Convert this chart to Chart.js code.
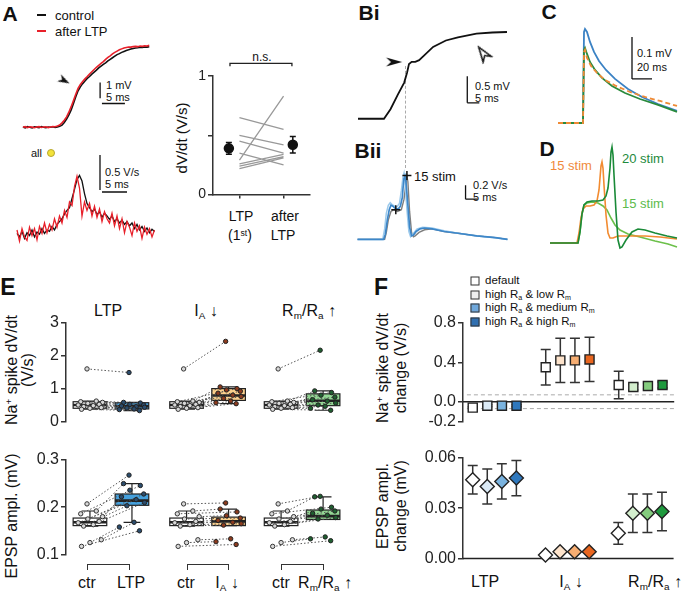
<!DOCTYPE html>
<html><head><meta charset="utf-8">
<script src="https://cdn.jsdelivr.net/npm/chart.js@4.4.1/dist/chart.umd.min.js"></script>
<style>
html,body{margin:0;padding:0;background:#fff;}
#fig{position:relative;width:682px;height:594px;overflow:hidden;font-family:'Liberation Sans',Arial,sans-serif;color:#111;}
#fig canvas{position:absolute;}
.t,.l,.r{position:absolute;white-space:nowrap;line-height:1;}
.t{transform:translate(-50%,-50%);}
.l{transform:translate(0,-50%);}
.r{transform:translate(-50%,-50%) rotate(-90deg);text-align:center;}
.b{font-weight:bold;font-size:21px;}
sub,sup{font-size:0.62em;line-height:0;position:relative;vertical-align:baseline;}
sub{top:0.32em;} sup{top:-0.5em;}
.hl{position:absolute;}
.br{position:absolute;border:1.5px solid #333;border-bottom:none;height:6px;box-sizing:border-box;}
.sq{position:absolute;width:7px;height:7px;border:1px solid #333;transform:translate(-50%,-50%);}
</style></head><body><div id="fig">
<div class="t b" style="left:10px;top:13px">A</div>
<div class="hl" style="left:37px;top:14px;width:9px;height:2px;background:#111"></div>
<div class="l" style="left:55px;top:15px;font-size:13px">control</div>
<div class="hl" style="left:37px;top:30px;width:9px;height:2px;background:#e8202a"></div>
<div class="l" style="left:55px;top:31px;font-size:13px">after LTP</div>
<div class="l" style="left:106px;top:85px;font-size:11px">1 mV</div>
<div class="l" style="left:106px;top:97px;font-size:11px">5 ms</div>
<div class="l" style="left:31px;top:153px;font-size:11px">all</div>
<div class="hl" style="left:47px;top:149px;width:6px;height:6px;border-radius:50%;background:#f3e23a;border:1px solid #b8a830"></div>
<div class="l" style="left:105px;top:172px;font-size:11px">0.5 V/s</div>
<div class="l" style="left:105px;top:184px;font-size:11px">5 ms</div>
<div class="t" style="left:262px;top:57px;font-size:12px">n.s.</div>
<div class="r" style="left:181px;top:138px;font-size:15px">dV/dt (V/s)</div>
<div class="t" style="left:241px;top:216px;font-size:14px">LTP</div>
<div class="t" style="left:285px;top:216px;font-size:14px">after</div>
<div class="t" style="left:240px;top:235px;font-size:14px">(1<sup>st</sup>)</div>
<div class="t" style="left:283px;top:235px;font-size:14px">LTP</div>

<div class="t b" style="left:369px;top:12px">Bi</div>
<div class="t b" style="left:368px;top:150px">Bii</div>
<div class="hl" style="left:405px;top:66px;height:102px;border-left:1px dashed #aaa"></div>
<div class="l" style="left:475px;top:86px;font-size:11px">0.5 mV</div>
<div class="l" style="left:475px;top:98px;font-size:11px">5 ms</div>
<div class="l" style="left:414px;top:176px;font-size:13px">15 stim</div>
<div class="l" style="left:473px;top:185px;font-size:11px">0.2 V/s</div>
<div class="l" style="left:473px;top:197px;font-size:11px">5 ms</div>

<div class="t b" style="left:549px;top:11px">C</div>
<div class="l" style="left:637px;top:53px;font-size:11px">0.1 mV</div>
<div class="l" style="left:637px;top:67px;font-size:11px">20 ms</div>
<div class="t b" style="left:547px;top:148px">D</div>
<div class="l" style="left:622px;top:158px;font-size:13px;color:#1e8a3c">20 stim</div>
<div class="l" style="left:550px;top:165px;font-size:13px;color:#f08a3c">15 stim</div>
<div class="l" style="left:622px;top:203px;font-size:13px;color:#5dbb4c">15 stim</div>

<div class="t b" style="left:8px;top:287px;font-size:23px">E</div>
<div class="t" style="left:108px;top:311px;font-size:16px">LTP</div>
<div class="t" style="left:206px;top:311px;font-size:16px">I<sub>A</sub> ↓</div>
<div class="t" style="left:309px;top:311px;font-size:16px">R<sub>m</sub>/R<sub>a</sub> ↑</div>
<div class="r" style="left:20px;top:370px;font-size:16px">Na<sup>+</sup> spike dV/dt<br>(V/s)</div>
<div class="r" style="left:12px;top:516px;font-size:16px">EPSP ampl. (mV)</div>
<div class="br" style="left:87px;top:564px;width:43px"></div>
<div class="br" style="left:187px;top:564px;width:42px"></div>
<div class="br" style="left:281px;top:564px;width:43px"></div>
<div class="t" style="left:87px;top:583px;font-size:16px">ctr</div>
<div class="t" style="left:131px;top:583px;font-size:16px">LTP</div>
<div class="t" style="left:186px;top:583px;font-size:16px">ctr</div>
<div class="t" style="left:227px;top:583px;font-size:16px">I<sub>A</sub> ↓</div>
<div class="t" style="left:281px;top:583px;font-size:16px">ctr</div>
<div class="t" style="left:325px;top:583px;font-size:16px">R<sub>m</sub>/R<sub>a</sub> ↑</div>

<div class="t b" style="left:381px;top:287px;font-size:23px">F</div>
<div class="sq" style="left:475px;top:281px;background:#ffffff"></div>
<div class="sq" style="left:475px;top:295px;background:#eeeeee"></div>
<div class="sq" style="left:475px;top:308px;background:#6fa8dc"></div>
<div class="sq" style="left:475px;top:322px;background:#2f6fb0"></div>
<div class="l" style="left:485px;top:281px;font-size:11.5px">default</div>
<div class="l" style="left:485px;top:295px;font-size:11.5px">high R<sub>a</sub> &amp; low R<sub>m</sub></div>
<div class="l" style="left:485px;top:308px;font-size:11.5px">high R<sub>a</sub> &amp; medium R<sub>m</sub></div>
<div class="l" style="left:485px;top:322px;font-size:11.5px">high R<sub>a</sub> &amp; high R<sub>m</sub></div>
<div class="r" style="left:392px;top:368px;font-size:16px;line-height:1.1">Na<sup>+</sup> spike dV/dt<br>change (V/s)</div>
<div class="r" style="left:392px;top:506px;font-size:16px;line-height:1.1">EPSP ampl.<br>change (mV)</div>
<div class="t" style="left:485px;top:582px;font-size:16px">LTP</div>
<div class="t" style="left:571px;top:582px;font-size:16px">I<sub>A</sub> ↓</div>
<div class="t" style="left:655px;top:582px;font-size:16px">R<sub>m</sub>/R<sub>a</sub> ↑</div>
</div>
<script>
// ================= DATA =================
// A: EPSP traces (ms, mV) and their derivatives (V/s)
const aTime = [0,0.5,1,1.5,2,2.5,3,3.5,4,4.5,5,5.5,6,6.5,7,7.5,8,8.5,9,9.5,10,10.5,11,11.5,12,12.5,13,13.5,14,14.5,15,15.5,16,16.5,17,17.5,18,18.5,19,19.5,20,20.5,21,21.5,22,22.5,23,23.5,24,24.5,25,25.5,26,26.5,27,27.5];
const aControl = [0.02,-0.03,0.04,0.00,-0.04,0.03,0.01,-0.02,0.04,0.00,-0.03,0.02,0.00,0.03,-0.01,0.02,0.06,0.14,0.30,0.52,0.78,1.10,1.50,1.92,2.30,2.55,2.75,2.92,3.08,3.20,3.35,3.48,3.60,3.74,3.85,3.96,4.06,4.18,4.28,4.38,4.48,4.58,4.64,4.72,4.78,4.84,4.88,4.93,4.96,5.00,5.01,5.04,5.03,5.06,5.05,5.08];
const aAfterLTP = [0.00,0.04,-0.02,0.03,0.01,-0.03,0.02,0.04,-0.01,0.02,0.03,-0.02,0.02,0.05,0.04,0.08,0.14,0.28,0.45,0.66,0.95,1.30,1.68,2.08,2.45,2.70,2.88,3.05,3.20,3.36,3.50,3.64,3.78,3.90,4.02,4.14,4.28,4.40,4.50,4.62,4.72,4.80,4.88,4.94,5.00,5.03,5.06,5.05,5.08,5.10,5.08,5.12,5.10,5.14,5.12,5.16];
const aRateControl = [0.05,0.00,0.08,-0.02,0.06,0.02,0.10,0.00,0.07,0.04,0.12,0.05,0.10,0.08,0.15,0.10,0.18,0.22,0.26,0.33,0.38,0.42,0.55,0.68,0.82,0.88,0.80,0.62,0.48,0.42,0.36,0.40,0.32,0.36,0.28,0.34,0.30,0.25,0.30,0.22,0.26,0.20,0.24,0.18,0.22,0.16,0.20,0.12,0.18,0.10,0.15,0.08,0.13,0.06,0.11,0.08];
const aRateAfter = [0.10,-0.06,0.12,0.00,-0.05,0.14,0.02,0.12,-0.04,0.15,0.05,0.20,0.06,0.18,0.10,0.26,0.14,0.30,0.20,0.38,0.28,0.50,0.45,0.72,0.87,0.70,0.30,0.50,0.38,0.48,0.30,0.44,0.28,0.40,0.22,0.36,0.26,0.20,0.34,0.16,0.30,0.12,0.26,0.06,0.22,0.14,0.02,0.20,0.08,0.16,-0.02,0.14,0.04,0.12,0.00,0.10];
// A right: slope per cell
const slopeLTP1st = [0.65,0.50,0.45,0.35,0.29,0.26,0.24,0.22];
const slopeAfterLTP = [0.55,0.42,0.35,0.25,0.83,0.34,0.32,0.31];
const slopeMean = [0.39,0.42];
const slopeErr = [0.05,0.07];
// Bi / Bii
const biTime = [0,10.8,13.5,16.5,19.2,20.4,21.2,22.3,23.8,25.4,27.3,31.2,36.5,41.5,49.2,55.8,61.9];
const biVm = [0,0,0.18,0.45,0.68,0.87,1.03,1.07,1.07,1.10,1.18,1.35,1.47,1.53,1.60,1.62,1.63];
const biiTimeA = [0,10.8,11.5,12.3,13.1,13.8,14.6,15.8,16.9,17.7,18.5,18.8,19.2,19.6,20.0,20.8,21.5,22.3,23.1,24.2,25.8,27.7,30.8,35.8,41.5,49.2,56.9,61.9];
const biiRateA = [0,0,0.075,0.275,0.425,0.488,0.475,0.438,0.438,0.475,0.6,0.738,0.875,0.925,0.825,0.488,0.175,0.05,0.063,0.113,0.15,0.163,0.15,0.113,0.088,0.05,0.025,0];
const biiTimeB = [0,10.4,11.2,11.9,12.7,13.5,14.6,16.2,17.3,18.1,18.8,19.2,19.6,20.4,21.2,21.9,23.1,24.6,26.9,30.8,35.8,41.5,49.2,56.9,61.9];
const biiRateB = [0,0,0.15,0.375,0.488,0.525,0.488,0.463,0.513,0.7,0.9,0.95,0.825,0.425,0.113,0.038,0.088,0.15,0.175,0.163,0.125,0.088,0.05,0.025,0];
const biiTimeC = [0,11.2,11.9,12.7,13.8,15.0,16.5,18.1,19.2,20.0,20.4,20.8,21.5,22.3,23.1,23.8,25.4,27.7,30.8,35.8,41.5,49.2,56.9,61.9];
const biiRateC = [0,0,0.1,0.275,0.4,0.425,0.4,0.425,0.575,0.8,0.9,0.825,0.4,0.1,0.038,0.05,0.1,0.138,0.15,0.113,0.088,0.05,0.025,0];
const biiMarkTime = [15.8,20.4];
const biiMarkRate = [0.425,0.9125];
// C: EPSPs (ms, mV)
const cTimeBlue = [0,25,26,27,29,32,36,41,48,57,70,84,100,119];
const cBlue = [0,0,0.2167,0.2238,0.2167,0.1929,0.169,0.1476,0.1262,0.1048,0.081,0.0619,0.0452,0.0286];
const cTimeGreen = [0,25,26,27,29,32,37,44,54,67,82,100,119];
const cGreen = [0,0,0.1738,0.1786,0.1643,0.1452,0.1262,0.1071,0.0881,0.0714,0.0571,0.0429,0.0262];
const cTimeOrange = [0,25,26,27,29,33,39,47,58,72,87,102,119];
const cOrange = [0,0,0.169,0.1738,0.1548,0.1357,0.119,0.1024,0.0881,0.0738,0.0619,0.0524,0.0405];
// D: dV/dt traces
const dTimeOrange = [0,27,29,31,33,36,40,44,47,49,50,51,52,53,54,56,58,60,63,68,80,95,110,127];
const dOrange = [0,0,0.10,0.25,0.34,0.37,0.37,0.38,0.42,0.53,0.65,0.77,0.81,0.75,0.58,0.28,0.10,0.05,0.05,0.07,0.07,0.07,0.06,0.04];
const dTimeDark = [0,28,30,32,34,37,42,48,53,56,58,60,61,62,63,64,66,68,70,72,76,82,88,95,105,117,127];
const dDark = [0,0,0.11,0.29,0.38,0.41,0.42,0.42,0.43,0.47,0.55,0.75,0.91,0.96,0.88,0.68,0.31,0.03,-0.05,-0.04,0.03,0.11,0.14,0.13,0.10,0.07,0.05];
const dTimeLight = [0,28,30,32,34,37,42,48,53,57,61,65,70,78,90,105,118,127];
const dLight = [0,0,0.11,0.29,0.38,0.40,0.41,0.40,0.37,0.33,0.25,0.18,0.13,0.09,0.06,0.02,-0.01,-0.04];
// E: simulated cells
const eTopCtr = [1.60,0.62,0.60,0.58,0.55,0.52,0.50,0.48,0.45,0.42,0.40,0.37];
const eTopLTP = [1.49,0.58,0.56,0.52,0.50,0.47,0.45,0.43,0.41,0.38,0.36,0.33];
const eTopIA = [2.44,1.05,1.00,0.96,0.92,0.86,0.80,0.76,0.70,0.62,0.57,0.54];
const eTopRm = [2.17,0.93,0.88,0.80,0.74,0.66,0.62,0.56,0.50,0.46,0.40,0.34];
const eBotCtr = [0.207,0.192,0.186,0.180,0.175,0.170,0.167,0.163,0.160,0.131,0.125,0.117];
const eBotLTP = [0.268,0.250,0.246,0.236,0.228,0.222,0.216,0.210,0.203,0.168,0.158,0.150];
const eBotIA = [0.209,0.196,0.190,0.182,0.177,0.172,0.168,0.165,0.162,0.133,0.127,0.121];
const eBotRm = [0.223,0.222,0.200,0.196,0.192,0.187,0.183,0.178,0.175,0.137,0.133,0.129];
// box stats: [low whisker, q1, median, q3, high whisker]
const eTopBoxCtr = [0.37,0.40,0.50,0.60,0.62];
const eTopBoxLTP = [0.33,0.38,0.46,0.57,0.58];
const eTopBoxIA = [0.54,0.64,0.79,1.00,1.05];
const eTopBoxRm = [0.34,0.48,0.63,0.84,0.93];
const eBotBoxCtr = [0.160,0.161,0.168,0.177,0.192];
const eBotBoxLTP = [0.168,0.204,0.214,0.228,0.250];
const eBotBoxIA = [0.161,0.161,0.170,0.179,0.196];
const eBotBoxRm = [0.174,0.174,0.181,0.194,0.222];
// F: mean change and error
const fTopLTP = [-0.06,-0.04,-0.04,-0.04];
const fTopLTPErr = [0.01,0.01,0.01,0.01];
const fTopIA = [0.35,0.42,0.42,0.43];
const fTopIAErr = [0.18,0.225,0.225,0.225];
const fTopRm = [0.17,0.15,0.16,0.17];
const fTopRmErr = [0.14,0.03,0.03,0.03];
const fBotLTP = [0.047,0.043,0.046,0.048];
const fBotLTPErr = [0.0085,0.0105,0.0105,0.0105];
const fBotIA = [0.002,0.004,0.004,0.004];
const fBotRm = [0.015,0.027,0.027,0.028];
const fBotRmErr = [0.0065,0.0115,0.0115,0.0115];

// ================= LAYOUT / STYLE =================
const ctrJit = [-0.07,0.15,-0.22,0.3,-0.05,0.22,-0.28,0.08,-0.15,0.27,0.0,-0.2];
const trtJit = [-0.07,-0.2,0.2,-0.05,0.28,-0.25,0.1,0.3,-0.12,0.05,-0.3,0.18];
const eCtrX = [1,3.3,5.55], eTrtX = [2,4.3,6.55];
const fX = [[0,1,2,3],[5,6,7,8],[10,11,12,13]];
const fColors = [['#ffffff','#dbeaf6','#7ab3df','#2f78bd'],['#ffffff','#fde3cb','#f7ae72','#e9661f'],['#ffffff','#d4efce','#84cc7e','#1f9a3e']];

Chart.defaults.font.family = "'Liberation Sans', Arial, sans-serif";
Chart.defaults.color = '#222';
Chart.defaults.animation = false;
Chart.defaults.responsive = false;
Chart.defaults.devicePixelRatio = 1;
Chart.defaults.events = [];
Chart.defaults.plugins.legend.display = false;
Chart.defaults.plugins.tooltip.enabled = false;

const fig = document.getElementById('fig');
function cv(l,t,w,h){const c=document.createElement('canvas');c.width=w;c.height=h;c.style.cssText=`left:${l}px;top:${t}px;width:${w}px;height:${h}px`;fig.appendChild(c);return c;}
function arrowImg(w,h,filled){const c=document.createElement('canvas');c.width=w+3;c.height=h+3;const g=c.getContext('2d');
  g.beginPath();g.moveTo(1.5,1.5);g.lineTo(w+1.5,h/2+1.5);g.lineTo(1.5,h+1.5);g.lineTo(1.5+w*0.3,h/2+1.5);g.closePath();
  if(filled){g.fillStyle='#111';g.fill();}else{g.fillStyle='#fff';g.fill();g.strokeStyle='#111';g.lineWidth=1.4;g.lineJoin='miter';g.stroke();}
  return c;}
const xy=(xs,ys)=>xs.map((x,i)=>({x,y:ys[i]}));
function tr(data,color,w,dash){return {data,borderColor:color,borderWidth:w||1.5,borderDash:dash||[],pointRadius:0,fill:false,tension:0,clip:false};}
function scaleBar(vx,vy,vLen,hx,hy,hLen){return tr([{x:vx,y:vy},{x:vx,y:vy+vLen},{x:vx,y:null},{x:hx,y:hy},{x:hx+hLen,y:hy}],'#111',1.3);}
function mark(pts,style,r,rot,fill,border){return {data:pts,showLine:false,pointStyle:style,pointRadius:r,pointRotation:rot,pointBackgroundColor:fill,pointBorderColor:border,pointBorderWidth:1.5,clip:false};}
// note: Chart.js paints the first dataset last (on top)
function traceChart(l,t,w,h,xr,yr,datasets){
  return new Chart(cv(l,t,w,h),{type:'line',data:{datasets},options:{layout:{padding:0},scales:{x:{type:'linear',display:false,min:xr[0],max:xr[1]},y:{type:'linear',display:false,min:yr[0],max:yr[1]}}}});
}
function yAxis(min,max,ticks,fmt,width,size){
  return {type:'linear',min,max,afterFit(s){s.width=width;},afterBuildTicks(s){s.ticks=ticks.map(v=>({value:v}));},
    ticks:{callback:v=>fmt(v),font:{size},color:'#222',padding:2},
    grid:{drawOnChartArea:false,drawTicks:true,tickLength:5,color:'#333',lineWidth:1.5},
    border:{display:true,color:'#333',width:1.5}};
}
let pid=0;
function boxPlugin(items,wUnits){return {id:'bx'+(pid++),beforeDatasetsDraw(chart){
  const {ctx,scales:{x,y}}=chart; ctx.save();
  items.forEach(b=>{const cx=x.getPixelForValue(b.x),hw=Math.abs(x.getPixelForValue(b.x+wUnits/2)-cx);
    const [lo,q1,md,q3,hi]=b.s.map(v=>y.getPixelForValue(v));
    ctx.strokeStyle='#222';ctx.lineWidth=1.2;ctx.beginPath();
    ctx.moveTo(cx,q3);ctx.lineTo(cx,hi);ctx.moveTo(cx-hw/2,hi);ctx.lineTo(cx+hw/2,hi);
    ctx.moveTo(cx,q1);ctx.lineTo(cx,lo);ctx.moveTo(cx-hw/2,lo);ctx.lineTo(cx+hw/2,lo);ctx.stroke();
    ctx.fillStyle=b.color;ctx.fillRect(cx-hw,q3,2*hw,q1-q3);ctx.strokeRect(cx-hw,q3,2*hw,q1-q3);
    ctx.lineWidth=2.6;ctx.beginPath();ctx.moveTo(cx-hw,md);ctx.lineTo(cx+hw,md);ctx.stroke();});
  ctx.restore();}};}
function errPlugin(items,cap,color,lw){return {id:'er'+(pid++),beforeDatasetsDraw(chart){
  const {ctx,scales:{x,y}}=chart; ctx.save(); ctx.strokeStyle=color; ctx.lineWidth=lw; ctx.beginPath();
  items.forEach(e=>{const px=x.getPixelForValue(e.x),a=y.getPixelForValue(e.lo),b=y.getPixelForValue(e.hi);
    ctx.moveTo(px,a);ctx.lineTo(px,b);ctx.moveTo(px-cap,a);ctx.lineTo(px+cap,a);ctx.moveTo(px-cap,b);ctx.lineTo(px+cap,b);});
  ctx.stroke(); ctx.restore();}};}

// ----- A traces -----
traceChart(10,30,160,110,[-1.4,30.6],[-0.39,5.72],[
  mark([{x:9,y:2.94}],arrowImg(12,8,true),5,28,'#111','#111'),
  tr(xy(aTime,aAfterLTP),'#e8202a',1.6),
  tr(xy(aTime,aControl),'#111',1.6),
  scaleBar(16.8,1.83,1,17.2,1.5,5)
]);
traceChart(10,150,160,100,[-1.4,30.6],[-0.186,1.243],[
  tr(xy(aTime,aRateAfter),'#e8202a',1.3),
  tr(xy(aTime,aRateControl),'#111',1.3),
  scaleBar(16.6,0.671,0.5,17,0.643,5)
]);
// ----- A right -----
(function(){
  const lines=[];slopeLTP1st.forEach((v,i)=>{lines.push({x:0,y:v},{x:1,y:slopeAfterLTP[i]},{x:0.5,y:null});});
  const meanX=[-0.24,1.21];
  new Chart(cv(190,50,130,155),{type:'line',data:{datasets:[
    mark(xy(meanX,slopeMean),'circle',4.5,0,'#111','#111'),
    tr([{x:-0.215,y:1.083},{x:-0.215,y:1.107},{x:1.19,y:1.107},{x:1.19,y:1.083}],'#222',1.3),
    tr(lines,'#999',1.3)
  ]},options:{layout:{padding:{top:26,right:10,left:0,bottom:0}},scales:{
    x:{type:'linear',min:-0.6,max:1.6,afterFit(s){s.height=8;},afterBuildTicks(s){s.ticks=[{value:0},{value:1}];},
       ticks:{callback:()=>'',padding:0},grid:{drawOnChartArea:false,tickLength:4,color:'#333',lineWidth:1.5},border:{display:true,color:'#333',width:1.5}},
    y:yAxis(0,1,[0,0.5,1],v=>(v===0.5?'':String(v)),23,14)}},
   plugins:[errPlugin(meanX.map((x,i)=>({x,lo:slopeMean[i]-slopeErr[i],hi:slopeMean[i]+slopeErr[i]})),3,'#111',1.5)]});
})();
// ----- B -----
traceChart(345,20,175,115,[-2.69,64.6],[-0.183,1.733],[
  mark([{x:15,y:1.067}],arrowImg(16,9,true),5,0,'#111','#111'),
  mark([{x:51.9,y:1.233}],arrowImg(15,10,false),5,-125,'#fff','#111'),
  tr(xy(biTime,biVm),'#111',1.8),
  scaleBar(45.4,0.3,0.5,45.4,0.3,5)
]);
traceChart(345,160,175,95,[-2.69,64.6],[-0.1375,1.05],[
  mark(xy(biiMarkTime,biiMarkRate),'cross',4.5,0,'#111','#111'),
  tr(xy(biiTimeA,biiRateA),'#3d87c9',1.7),
  tr(xy(biiTimeB,biiRateB),'#9ccaec',1.5),
  tr(xy(biiTimeC,biiRateC),'#7f7f7f',1.4),
  scaleBar(44.6,0.575,0.2,44.6,0.575,5)
]);
// ----- C, D -----
traceChart(550,20,132,110,[-8,124],[-0.0167,0.245],[
  tr(xy(cTimeOrange,cOrange),'#ef8a35',1.8,[5,3]),
  tr(xy(cTimeGreen,cGreen),'#2a8a3c',1.8),
  tr(xy(cTimeBlue,cBlue),'#3b82c4',1.8),
  scaleBar(74,0.1048,0.1,74,0.1048,20)
]);
traceChart(550,140,132,115,[0,132],[-0.12,1.03],[
  tr(xy(dTimeDark,dDark),'#1a8a38',1.6),
  tr(xy(dTimeOrange,dOrange),'#f28b30',1.6),
  tr(xy(dTimeLight,dLight),'#6cc04a',1.6)
]);
// ----- E -----
function eChart(top,h,padTop,yr,ticks,fmt,ctr,trts,boxes,boxCtr){
  const trtFill=['#2b4d6e','#8c3b1e','#1f5f30'], boxFill=['#45a0dc','#fbd08c','#93d794'];
  const pts=[], lns=[], items=[];
  trts.forEach((t,g)=>{
    const pl=[];ctr.forEach((v,i)=>{pl.push({x:eCtrX[g]+ctrJit[i],y:v},{x:eTrtX[g]+trtJit[i],y:t[i]},{x:eTrtX[g],y:null});});
    lns.push({data:pl,borderColor:'#555',borderWidth:1,borderDash:[1.5,2],pointRadius:0,tension:0,clip:false});
    items.push({x:eCtrX[g],s:boxCtr,color:'#ffffff'},{x:eTrtX[g],s:boxes[g],color:boxFill[g]});
    pts.push({data:ctr.map((v,i)=>({x:eCtrX[g]+ctrJit[i],y:v})),showLine:false,pointRadius:2.2,pointBackgroundColor:'#d8d8d8',pointBorderColor:'#333',pointBorderWidth:1,clip:false});
    pts.push({data:t.map((v,i)=>({x:eTrtX[g]+trtJit[i],y:v})),showLine:false,pointRadius:2.2,pointBackgroundColor:trtFill[g],pointBorderColor:'#222',pointBorderWidth:1,clip:false});
  });
  new Chart(cv(20,top,327,h),{type:'line',data:{datasets:pts.concat(lns)},options:{layout:{padding:{top:padTop,right:5,bottom:5,left:0}},
    scales:{x:{type:'linear',display:false,min:0.43,max:7.0},y:yAxis(yr[0],yr[1],ticks,fmt,46,16)}},plugins:[boxPlugin(items,0.8)]});
}
eChart(300,133,23,[0,3],[0,1,2,3],v=>String(v),eTopCtr,[eTopLTP,eTopIA,eTopRm],[eTopBoxLTP,eTopBoxIA,eTopBoxRm],eTopBoxCtr);
eChart(440,126,20,[0.1,0.3],[0.1,0.2,0.3],v=>v.toFixed(1),eBotCtr,[eBotLTP,eBotIA,eBotRm],[eBotBoxLTP,eBotBoxIA,eBotBoxRm],eBotBoxCtr);
// ----- F -----
function fChart(top,h,padTop,yr,ticks,fmt,groups,errs,style,r,refLines){
  const ds=[], items=[];
  groups.forEach((vals,g)=>{
    ds.push({data:xy(fX[g],vals),showLine:false,pointStyle:style,pointRadius:r,pointBackgroundColor:fColors[g],pointBorderColor:'#222',pointBorderWidth:1.4,clip:false});
    if(errs[g]) vals.forEach((v,i)=>items.push({x:fX[g][i],lo:v-errs[g][i],hi:v+errs[g][i]}));
  });
  refLines.forEach(rl=>ds.push(tr([{x:rl[0],y:rl[1]},{x:13.8,y:rl[1]}],rl[2],rl[3],rl[4])));
  new Chart(cv(420,top,262,h),{type:'line',data:{datasets:ds},options:{layout:{padding:{top:padTop,right:2,bottom:8,left:0}},
    scales:{x:{type:'linear',display:false,min:-0.667,max:13.8},y:yAxis(yr[0],yr[1],ticks,fmt,43,16)}},plugins:[errPlugin(items,5,'#333',1.5)]});
}
fChart(300,133,23,[-0.2,0.8],[-0.2,0,0.4,0.8],v=>v.toFixed(1),[fTopLTP,fTopIA,fTopRm],[fTopLTPErr,fTopIAErr,fTopRmErr],'rect',6.4,
  [[-0.667,0,'#222',1.5,[]],[-0.4,0.07,'#aaa',1,[4,3]],[-0.4,-0.07,'#aaa',1,[4,3]]]);
fChart(440,130,18,[0,0.06],[0,0.03,0.06],v=>v.toFixed(2),[fBotLTP,fBotIA,fBotRm],[fBotLTPErr,null,fBotRmErr],'rectRot',7,
  [[-0.667,0,'#222',1.5,[]]]);
</script></body></html>
